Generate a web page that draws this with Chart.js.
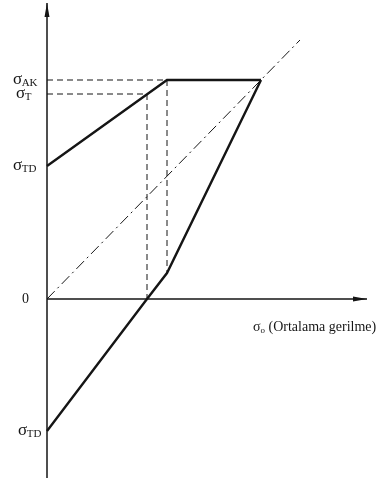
<!DOCTYPE html>
<html>
<head>
<meta charset="utf-8">
<script src="https://cdn.jsdelivr.net/npm/chart.js@4.4.0/dist/chart.umd.min.js"></script>
<style>
  html, body { margin: 0; padding: 0; background: #fff; }
  #wrap { width: 384px; height: 483px; position: relative; }
</style>
</head>
<body>
<div id="wrap"><canvas id="c"></canvas></div>
<script>
// Smith diagram: stress limits against mean stress
const sigmaAK = 219;   // yield-limit level
const sigmaT = 205;    // level where the upper limit meets the dashed construction
const sigmaTD = 133;   // alternating fatigue strength

// upper limit line
const upperX = [0, 120, 214];
const upperY = [sigmaTD, sigmaAK, sigmaAK];
// lower limit line
const lowerX = [0, 100, 120, 214];
const lowerY = [-132, 0, 26, sigmaAK];
// 45° reference line
const diagX = [0, 253];
const diagY = [0, 259];
// dashed construction lines
const akDashX = [0, 120, 120];
const akDashY = [sigmaAK, sigmaAK, 26];
const tDashX = [0, 100, 100];
const tDashY = [sigmaT, sigmaT, 0];
// axes
const xAxisX = [0, 320];
const xAxisY = [0, 0];
const yAxisX = [0, 0];
const yAxisY = [-179, 296];

// left-side labels: value, main symbol, subscript
const tickValues = [sigmaAK, sigmaT, sigmaTD, 0, -132];
const tickMain = ['σ', 'σ', 'σ', '0', 'σ'];
const tickSub = ['AK', 'T', 'TD', '', 'TD'];
const axisTitleMain = 'σ';
const axisTitleSub = 'o';
const axisTitleRest = ' (Ortalama gerilme)';

const pts = (xs, ys) => xs.map((x, i) => ({ x: x, y: ys[i] }));
const ink = '#151515';

// horizontal gap (px) between each left label's start and the vertical axis
const labelGap = [34, 31, 34, 25, 29];
const labelSize = [17, 17, 17, 14, 17];

const labelPlugin = {
  id: 'labels',
  afterDatasetsDraw(chart) {
    const ctx = chart.ctx;
    const xs = chart.scales.x, ys = chart.scales.y;
    const ox = xs.getPixelForValue(0);
    ctx.save();
    ctx.fillStyle = ink;
    ctx.textBaseline = 'alphabetic';
    // arrowheads
    const drawArrow = (tx, ty, dx, dy) => {
      const len = 14, half = 2.5;
      const bx = tx - dx * len, by = ty - dy * len;
      ctx.beginPath();
      ctx.moveTo(tx, ty);
      ctx.lineTo(bx - dy * half, by + dx * half);
      ctx.lineTo(bx + dy * half, by - dx * half);
      ctx.closePath();
      ctx.fill();
    };
    drawArrow(xs.getPixelForValue(xAxisX[1]), ys.getPixelForValue(0), 1, 0);
    drawArrow(ox, ys.getPixelForValue(yAxisY[1]), 0, -1);
    // left labels
    tickValues.forEach((v, i) => {
      const py = ys.getPixelForValue(v);
      const startX = ox - labelGap[i];
      ctx.font = labelSize[i] + 'px "Liberation Serif"';
      ctx.fillText(tickMain[i], startX, py + 4);
      const mw = ctx.measureText(tickMain[i]).width;
      if (tickSub[i]) {
        ctx.font = '11px "Liberation Serif"';
        ctx.fillText(tickSub[i], startX + mw - 0.5, py + 6);
      }
    });
    // axis title
    const tx = xs.getPixelForValue(206), ty = ys.getPixelForValue(-32);
    ctx.font = '14px "Liberation Serif"';
    ctx.fillText(axisTitleMain, tx, ty);
    const w1 = ctx.measureText(axisTitleMain).width;
    ctx.font = '9px "Liberation Serif"';
    ctx.fillText(axisTitleSub, tx + w1, ty + 2);
    const w2 = ctx.measureText(axisTitleSub).width;
    ctx.font = '14px "Liberation Serif"';
    ctx.fillText(axisTitleRest, tx + w1 + w2, ty);
    ctx.restore();
  }
};

const line = (data, width, dash) => ({
  data: data,
  showLine: true,
  borderColor: ink,
  borderWidth: width,
  borderDash: dash || [],
  pointRadius: 0,
  fill: false,
  tension: 0,
  borderCapStyle: 'butt',
  borderJoinStyle: 'miter'
});

new Chart(document.getElementById('c'), {
  type: 'scatter',
  data: {
    datasets: [
      line(pts(xAxisX, xAxisY), 1.5),
      line(pts(yAxisX, yAxisY), 1.5),
      line(pts(akDashX, akDashY), 1, [6, 4]),
      line(pts(tDashX, tDashY), 1, [6, 4]),
      line(pts(diagX, diagY), 1, [11, 4, 2, 4]),
      line(pts(upperX, upperY), 2.4),
      line(pts(lowerX, lowerY), 2.4)
    ]
  },
  options: {
    responsive: true,
    maintainAspectRatio: false,
    animation: false,
    layout: { padding: 0 },
    plugins: { legend: { display: false }, tooltip: { enabled: false } },
    scales: {
      x: { type: 'linear', min: -47, max: 337, display: false },
      y: { type: 'linear', min: -184, max: 299, display: false }
    }
  },
  plugins: [labelPlugin]
});
</script>
</body>
</html>
